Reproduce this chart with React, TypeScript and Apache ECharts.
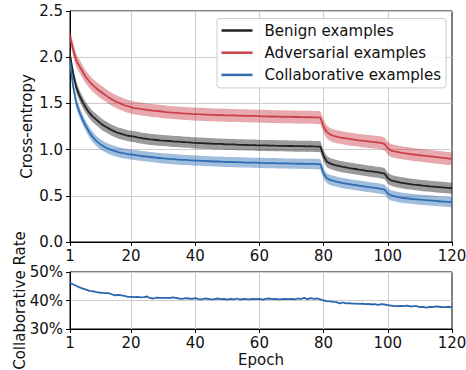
import React, { useEffect, useRef } from "react";
import * as echarts from "echarts";

const epochs: string[] = Array.from({ length: 120 }, (_, i) => String(i + 1));
const xTickLabels = ["1", "20", "40", "60", "80", "100", "120"];

const seriesNames = ["Benign examples", "Adversarial examples", "Collaborative examples"];
const lineColors = ["#222222", "#c9404a", "#2e6db4"];
const bandHalfWidth = [0.06, 0.07, 0.055];

const benign = [
  2.02, 1.82, 1.67, 1.58, 1.51, 1.45, 1.4, 1.36, 1.33, 1.3,
  1.27, 1.25, 1.23, 1.21, 1.195, 1.18, 1.17, 1.16, 1.15, 1.145,
  1.14, 1.132, 1.126, 1.12, 1.116, 1.11, 1.108, 1.104, 1.1, 1.098,
  1.095, 1.093, 1.089, 1.087, 1.086, 1.082, 1.08, 1.079, 1.075, 1.073,
  1.07, 1.07, 1.067, 1.066, 1.065, 1.062, 1.061, 1.061, 1.058, 1.057,
  1.056, 1.056, 1.053, 1.052, 1.052, 1.05, 1.049, 1.049, 1.047, 1.046,
  1.045, 1.045, 1.043, 1.044, 1.042, 1.041, 1.041, 1.04, 1.039, 1.039,
  1.038, 1.037, 1.037, 1.036, 1.035, 1.036, 1.034, 1.033, 1.032, 0.93,
  0.87, 0.85, 0.838, 0.828, 0.82, 0.813, 0.807, 0.8, 0.795, 0.79,
  0.784, 0.779, 0.773, 0.768, 0.764, 0.758, 0.754, 0.748, 0.74, 0.69,
  0.668, 0.658, 0.65, 0.643, 0.637, 0.632, 0.627, 0.622, 0.618, 0.614,
  0.61, 0.607, 0.603, 0.6, 0.597, 0.594, 0.591, 0.588, 0.585, 0.582,
];

const adversarial = [
  2.23, 2.08, 1.96, 1.9, 1.84, 1.78, 1.74, 1.7, 1.67, 1.64,
  1.615, 1.59, 1.565, 1.545, 1.525, 1.51, 1.495, 1.48, 1.47, 1.46,
  1.45, 1.446, 1.44, 1.436, 1.43, 1.426, 1.42, 1.419, 1.415, 1.41,
  1.406, 1.403, 1.4, 1.398, 1.395, 1.393, 1.39, 1.389, 1.385, 1.385,
  1.383, 1.382, 1.379, 1.379, 1.376, 1.376, 1.374, 1.374, 1.372, 1.371,
  1.37, 1.37, 1.368, 1.368, 1.366, 1.366, 1.364, 1.364, 1.362, 1.362,
  1.36, 1.36, 1.358, 1.359, 1.357, 1.357, 1.355, 1.356, 1.354, 1.354,
  1.353, 1.353, 1.351, 1.352, 1.35, 1.351, 1.349, 1.348, 1.345, 1.25,
  1.19, 1.165, 1.15, 1.14, 1.133, 1.127, 1.121, 1.115, 1.11, 1.105,
  1.1, 1.096, 1.092, 1.088, 1.084, 1.08, 1.076, 1.072, 1.06, 1.015,
  0.99, 0.982, 0.975, 0.968, 0.962, 0.957, 0.952, 0.947, 0.943, 0.939,
  0.935, 0.931, 0.927, 0.923, 0.919, 0.915, 0.911, 0.907, 0.903, 0.9,
];

const collaborative = [
  1.95, 1.68, 1.5, 1.4, 1.32, 1.25, 1.19, 1.14, 1.1, 1.07,
  1.045, 1.025, 1.008, 0.995, 0.983, 0.973, 0.965, 0.958, 0.952, 0.947,
  0.942, 0.937, 0.933, 0.928, 0.925, 0.92, 0.917, 0.912, 0.909, 0.905,
  0.903, 0.899, 0.897, 0.894, 0.892, 0.889, 0.888, 0.885, 0.884, 0.881,
  0.88, 0.877, 0.877, 0.874, 0.874, 0.871, 0.871, 0.869, 0.868, 0.866,
  0.866, 0.864, 0.864, 0.862, 0.862, 0.86, 0.86, 0.858, 0.858, 0.856,
  0.856, 0.854, 0.854, 0.853, 0.853, 0.851, 0.851, 0.85, 0.85, 0.848,
  0.849, 0.847, 0.847, 0.846, 0.846, 0.845, 0.845, 0.843, 0.84, 0.74,
  0.69, 0.672, 0.662, 0.653, 0.645, 0.638, 0.632, 0.626, 0.62, 0.615,
  0.61, 0.605, 0.6, 0.595, 0.59, 0.585, 0.58, 0.575, 0.566, 0.525,
  0.505, 0.496, 0.488, 0.481, 0.476, 0.472, 0.468, 0.465, 0.462, 0.459,
  0.456, 0.453, 0.45, 0.447, 0.444, 0.441, 0.438, 0.436, 0.434, 0.432,
];

const collabRate = [
  46.2, 45.6, 45.1, 44.6, 44.2, 43.8, 43.4, 43.3, 43.0, 42.8,
  42.7, 42.6, 42.6, 42.2, 41.8, 42.0, 41.8, 41.6, 41.3, 41.3,
  41.2, 41.3, 41.1, 41.2, 41.4, 40.8, 40.7, 41.0, 40.9, 40.9,
  40.9, 40.8, 41.1, 40.9, 40.7, 40.6, 40.8, 40.7, 40.6, 40.8,
  40.5, 40.4, 40.7, 40.6, 40.4, 40.5, 40.7, 40.5, 40.6, 40.3,
  40.6, 40.4, 40.7, 40.3, 40.6, 40.5, 40.4, 40.6, 40.5, 40.6,
  40.3, 40.6, 40.7, 40.5, 40.6, 40.4, 40.5, 40.6, 40.5, 40.6,
  40.4, 40.7, 40.6, 40.9, 40.5, 40.8, 40.6, 40.7, 40.4, 40.0,
  39.8, 39.7, 39.5, 39.4, 39.0, 39.3, 39.0, 39.1, 38.9, 38.9,
  38.8, 38.9, 38.7, 38.8, 38.6, 38.7, 38.5, 38.7, 38.6, 38.4,
  38.2, 38.0, 38.0, 38.1, 38.0, 38.2, 37.9, 38.0, 38.0, 37.7,
  37.8, 37.5, 37.8, 37.7, 37.9, 37.8, 37.7, 37.7, 37.8, 37.6,
];

const FONT = "DejaVu Sans";
const FS = 15;

export default function App() {
  const ref = useRef<HTMLDivElement>(null);
  useEffect(() => {
    if (!ref.current) return;
    const chart = echarts.init(ref.current, undefined, { renderer: "svg" });
    const means = [benign, adversarial, collaborative];
    const isTick = (i: number) => xTickLabels.includes(epochs[i]);
    const isSplit = (i: number) => isTick(i) && i !== 0 && i !== epochs.length - 1;

    const series: any[] = [];
    means.forEach((m, k) => {
      const hw = bandHalfWidth[k];
      series.push({
        type: "line",
        name: "band-lower-" + k,
        xAxisIndex: 0,
        yAxisIndex: 0,
        data: m.map((v) => +(v - hw).toFixed(4)),
        stack: "band" + k,
        symbol: "none",
        lineStyle: { opacity: 0 },
        silent: true,
        z: 2,
      });
      series.push({
        type: "line",
        name: "band-" + k,
        xAxisIndex: 0,
        yAxisIndex: 0,
        data: m.map(() => +(2 * hw).toFixed(4)),
        stack: "band" + k,
        symbol: "none",
        lineStyle: { opacity: 0 },
        areaStyle: { color: lineColors[k], opacity: 0.45 },
        silent: true,
        z: 2,
      });
    });
    means.forEach((m, k) => {
      series.push({
        type: "line",
        name: seriesNames[k],
        xAxisIndex: 0,
        yAxisIndex: 0,
        data: m,
        symbol: "none",
        lineStyle: { color: lineColors[k], width: 1.8 },
        itemStyle: { color: lineColors[k] },
        z: 3,
      });
    });
    series.push({
      type: "line",
      name: "Collaborative Rate",
      xAxisIndex: 1,
      yAxisIndex: 1,
      data: collabRate,
      symbol: "none",
      lineStyle: { color: "#2a66ad", width: 1.8 },
      z: 3,
    });

    const nameStyle = { fontFamily: FONT, fontSize: FS, color: "#111" };
    const xAxisBase = (gridIndex: number) => ({
      type: "category",
      gridIndex,
      data: epochs,
      boundaryGap: false,
      axisLine: { show: true, lineStyle: { color: "#000", width: 1 } },
      axisTick: { show: true, inside: false, length: 4, interval: (i: number) => isTick(i), lineStyle: { color: "#000" } },
      axisLabel: {
        interval: (i: number) => isTick(i),
        color: "#111",
        fontFamily: FONT,
        fontSize: FS,
        margin: 6,
      },
      splitLine: { show: true, interval: (i: number) => isSplit(i), lineStyle: { color: "#cccccc", width: 1 } },
    });
    const yAxisBase = (gridIndex: number, gap: number) => ({
      type: "value",
      gridIndex,
      nameLocation: "middle",
      nameGap: gap,
      nameMoveOverlap: false,
      nameTextStyle: nameStyle,
      axisLine: { show: true, lineStyle: { color: "#000", width: 1 } },
      axisTick: { show: true, length: 4, lineStyle: { color: "#000" } },
      splitLine: { show: true, lineStyle: { color: "#cccccc", width: 1 } },
    });

    chart.setOption({
      animation: false,
      textStyle: { fontFamily: FONT },
      grid: [
        { left: 70, right: 14, top: 11, height: 231, show: true, borderColor: "#000", borderWidth: 1, containLabel: false, outerBoundsMode: "none" },
        { left: 70, right: 14, top: 272, height: 57, show: true, borderColor: "#000", borderWidth: 1, containLabel: false, outerBoundsMode: "none" },
      ],
      legend: {
        data: seriesNames,
        orient: "vertical",
        left: 217,
        top: 18.5,
        icon: "rect",
        itemWidth: 31,
        itemHeight: 2.5,
        itemGap: 5.2,
        padding: [3.5, 5, 4.5, 4.5],
        backgroundColor: "rgba(255,255,255,0.85)",
        borderColor: "#cccccc",
        borderWidth: 1,
        borderRadius: 3,
        textStyle: { fontFamily: FONT, fontSize: FS, color: "#111", lineHeight: 17, padding: [0, 0, 0, 7] },
        z: 10,
      },
      xAxis: [
        xAxisBase(0),
        {
          ...xAxisBase(1),
          name: "Epoch",
          nameLocation: "middle",
          nameGap: 23,
          nameMoveOverlap: false,
          nameTextStyle: nameStyle,
        },
      ],
      yAxis: [
        {
          ...yAxisBase(0, 35.5),
          min: 0,
          max: 2.5,
          interval: 0.5,
          name: "Cross-entropy",
          axisLabel: { color: "#111", fontFamily: FONT, fontSize: FS, margin: 7, formatter: (v: number) => v.toFixed(1) },
        },
        {
          ...yAxisBase(1, 43),
          min: 30,
          max: 50,
          interval: 10,
          name: "Collaborative Rate",
          axisLabel: { color: "#111", fontFamily: FONT, fontSize: FS, margin: 7, formatter: (v: number) => v + "%" },
        },
      ],
      series,
    });
    return () => chart.dispose();
  }, []);
  return <div ref={ref} style={{ position: "fixed", left: 0, top: 0, width: 466, height: 370, background: "#fff" }} />;
}
